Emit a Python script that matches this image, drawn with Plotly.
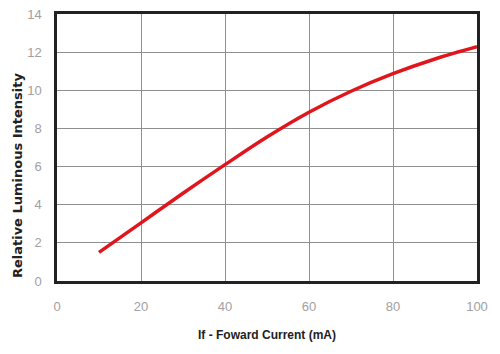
import plotly.graph_objects as go

current_ma = [10, 20, 30, 40, 50, 60, 70, 80, 90, 100]
relative_intensity = [1.5, 3.05, 4.6, 6.1, 7.55, 8.85, 9.95, 10.87, 11.64, 12.28]
x_ticks = [0, 20, 40, 60, 80, 100]
y_ticks = [0, 2, 4, 6, 8, 10, 12, 14]

fig = go.Figure()
fig.add_trace(go.Scatter(
    x=current_ma, y=relative_intensity, mode="lines",
    line=dict(color="#e0161c", width=3.5, shape="spline"),
    showlegend=False, hoverinfo="skip",
))

axis_common = dict(
    showgrid=True, gridcolor="#8f8f8f", gridwidth=1,
    showline=True, linecolor="#222222", linewidth=2.5, mirror=True,
    zeroline=False, ticks="",
    tickfont=dict(family="Liberation Sans, Arial, sans-serif", size=13, color="#a0a0a0"),
)

fig.update_layout(
    width=500, height=354,
    margin=dict(l=57, r=23, t=14, b=73, autoexpand=False),
    paper_bgcolor="white", plot_bgcolor="white",
    xaxis=dict(range=[0, 100], tickvals=x_ticks, ticklabelstandoff=12,
               title=dict(text="<b>If - Foward Current (mA)</b>", standoff=18,
                          font=dict(family="Liberation Sans, Arial, sans-serif", size=12, color="#222")),
               **axis_common),
    yaxis=dict(range=[0, 14], tickvals=y_ticks, ticklabelstandoff=10, **axis_common),
    annotations=[dict(
        text="<b>Relative Luminous Intensity</b>", textangle=-90,
        xref="paper", yref="paper", x=-0.095, y=0.397,
        xanchor="center", yanchor="middle", showarrow=False,
        font=dict(family="DejaVu Sans, sans-serif", size=13, color="#222"),
    )],
)

fig.write_html("out.html", config={"displayModeBar": False},
               post_script="document.body.style.margin='0';")
